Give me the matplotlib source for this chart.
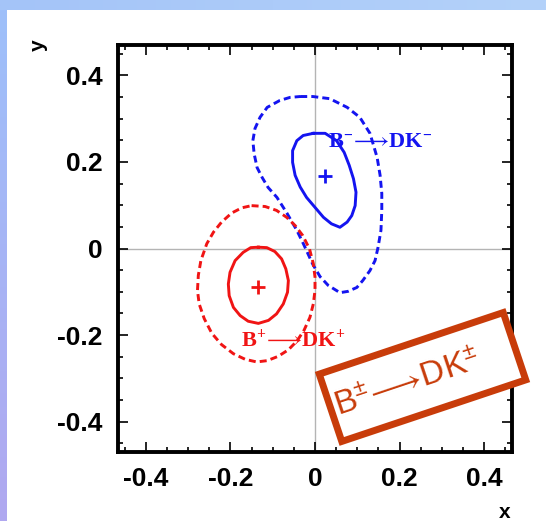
import numpy as np
import matplotlib
matplotlib.use("Agg")

import matplotlib.pyplot as plt
from matplotlib import transforms
from matplotlib.colors import LinearSegmentedColormap
from matplotlib.patches import Rectangle

plt.rcParams["font.family"] = ["Liberation Sans", "DejaVu Sans"]
plt.rcParams["mathtext.fontset"] = "custom"
plt.rcParams["mathtext.bf"] = "Liberation Serif:bold"
plt.rcParams["mathtext.rm"] = "Liberation Serif"
plt.rcParams["mathtext.sf"] = "Liberation Sans"
plt.rcParams["mathtext.fallback"] = "stix"

# contour vertices (x, y)
blue_1s_x = [-0.004, 0.024, 0.051, 0.069, 0.081, 0.091, 0.097, 0.095, 0.087, 0.076, 0.059,
             0.039, 0.020, 0.000, -0.020, -0.035, -0.047, -0.053, -0.053, -0.043, -0.028]
blue_1s_y = [0.266, 0.266, 0.249, 0.222, 0.192, 0.161, 0.130, 0.099, 0.076, 0.061, 0.049,
             0.057, 0.072, 0.095, 0.118, 0.142, 0.169, 0.199, 0.226, 0.249, 0.261]

blue_2s_x = [-0.035, -0.005, 0.035, 0.076, 0.106, 0.130, 0.147, 0.154, 0.158, 0.158, 0.156, 0.149,
             0.142, 0.130, 0.113, 0.099, 0.078, 0.059, 0.031, 0.012, -0.005, -0.028, -0.043, -0.066,
             -0.090, -0.111, -0.125, -0.137, -0.144, -0.147, -0.142, -0.130, -0.113, -0.083, -0.059]
blue_2s_y = [0.351, 0.351, 0.346, 0.326, 0.303, 0.266, 0.210, 0.169, 0.127, 0.088, 0.042, 0.002,
             -0.028, -0.051, -0.074, -0.090, -0.099, -0.102, -0.085, -0.065, -0.037, 0.012, 0.042, 0.081,
             0.118, 0.141, 0.164, 0.187, 0.219, 0.249, 0.277, 0.303, 0.326, 0.342, 0.349]

red_1s_x = [-0.134, -0.114, -0.095, -0.079, -0.069, -0.063, -0.065, -0.075, -0.091, -0.110,
            -0.134, -0.158, -0.177, -0.193, -0.203, -0.205, -0.201, -0.189, -0.170, -0.152]
red_1s_y = [0.003, 0.002, -0.007, -0.024, -0.047, -0.074, -0.101, -0.128, -0.151, -0.166,
            -0.173, -0.168, -0.155, -0.136, -0.109, -0.082, -0.055, -0.028, -0.009, 0.002]

red_2s_x = [-0.150, -0.118, -0.091, -0.067, -0.047, -0.029, -0.013, -0.004, 0.000, 0.000, -0.004,
            -0.012, -0.026, -0.043, -0.063, -0.087, -0.113, -0.138, -0.165, -0.193, -0.221, -0.244,
            -0.262, -0.274, -0.278, -0.276, -0.270, -0.256, -0.240, -0.221, -0.197, -0.173]
red_2s_y = [0.099, 0.097, 0.088, 0.072, 0.053, 0.030, -0.001, -0.035, -0.066, -0.097, -0.128,
            -0.159, -0.189, -0.214, -0.234, -0.249, -0.259, -0.262, -0.256, -0.243, -0.222, -0.196,
            -0.162, -0.128, -0.097, -0.062, -0.028, 0.011, 0.038, 0.061, 0.082, 0.094]

best_x = [0.024, -0.136]
best_y = [0.168, -0.090]

ticks = [-0.4, -0.2, 0, 0.2, 0.4]
tick_labels = ["-0.4", "-0.2", "0", "0.2", "0.4"]

BLUE = "#1414f0"
RED = "#f01414"
BOX = "#c83c0a"


def closed(xs, ys):
    return list(xs) + [xs[0]], list(ys) + [ys[0]]


fig = plt.figure(figsize=(5.46, 5.21), dpi=100)
fig.patch.set_facecolor("white")

# slide decoration: blue bands on top and left
top = fig.add_axes([0, 1 - 10 / 521, 1, 10 / 521])
top.imshow(np.linspace(0, 1, 256)[None, :], aspect="auto",
           cmap=LinearSegmentedColormap.from_list("t", ["#a4c4f8", "#b4d2fa"]))
top.axis("off")
left = fig.add_axes([0, 0, 7 / 546, 1 - 10 / 521])
left.imshow(np.linspace(0, 1, 256)[:, None], aspect="auto",
            cmap=LinearSegmentedColormap.from_list("l", ["#9ec0fa", "#b0a8f0"]))
left.axis("off")

ax = fig.add_axes([118 / 546, 69 / 521, 394 / 546, 407 / 521])
ax.set_xlim(-0.466, 0.466)
ax.set_ylim(-0.47, 0.47)

ax.axvline(0, color="#b4b4b4", lw=1, zorder=1)
ax.axhline(0, color="#b4b4b4", lw=1, zorder=1)

dash = (2.4, 1.4)
style = dict(lw=2.1, solid_joinstyle="round", dash_capstyle="butt")
x, y = closed(blue_2s_x, blue_2s_y)
ax.plot(x, y, color=BLUE, dashes=dash, **style)
x, y = closed(blue_1s_x, blue_1s_y)
ax.plot(x, y, color=BLUE, **style)
x, y = closed(red_2s_x, red_2s_y)
ax.plot(x, y, color=RED, dashes=dash, **style)
x, y = closed(red_1s_x, red_1s_y)
ax.plot(x, y, color=RED, **style)

ax.plot(best_x[0], best_y[0], marker="+", color=BLUE, ms=10, mew=2)
ax.plot(best_x[1], best_y[1], marker="+", color=RED, ms=10, mew=2)

ax.text(0.031, 0.248, r"$\mathbf{B^{-}}\!\longrightarrow\!\mathbf{DK^{-}}$", color=BLUE, fontsize=16,
        ha="left", va="center")
ax.text(-0.174, -0.212, r"$\mathbf{B^{+}}\!\longrightarrow\!\mathbf{DK^{+}}$", color=RED, fontsize=16,
        ha="left", va="center")

ax.set_xticks(ticks)
ax.set_xticklabels(tick_labels)
ax.set_yticks(ticks)
ax.set_yticklabels(tick_labels)
ax.set_xticks(np.arange(-0.45, 0.46, 0.05), minor=True)
ax.set_yticks(np.arange(-0.45, 0.46, 0.05), minor=True)
ax.tick_params(which="both", direction="in", top=True, right=True, width=1.2, color="black")
ax.tick_params(which="major", length=7, labelsize=19, pad=11)
ax.tick_params(which="minor", length=3.5)
for lab in ax.get_xticklabels() + ax.get_yticklabels():
    lab.set_fontweight("bold")
for s in ax.spines.values():
    s.set_linewidth(2.8)

fig.text(38 / 546, 1 - 45 / 521, "y", rotation=90, fontsize=15, fontweight="bold", ha="center", va="center")
fig.text(505 / 546, 1 - 512 / 521, "x", fontsize=15, fontweight="bold", ha="center", va="center")

# rotated annotation box (in figure inches)
cx, cy, ang = 4.225, (521 - 377) / 100, 18.5
rot = transforms.Affine2D().rotate_deg_around(cx, cy, ang) + fig.dpi_scale_trans
box = Rectangle((cx - 0.97, cy - 0.355), 1.94, 0.71, transform=rot, fc="white", ec=BOX, lw=5, zorder=10)
fig.patches.append(box)
fig.text(4.08 / 5.46, (521 - 384) / 521, r"$\mathsf{B^{\pm}}\!\longrightarrow\!\mathsf{DK^{\pm}}$", color=BOX,
         fontsize=24, rotation=ang, rotation_mode="anchor", ha="center", va="center", zorder=11)

fig.savefig("out.png", dpi=100)
